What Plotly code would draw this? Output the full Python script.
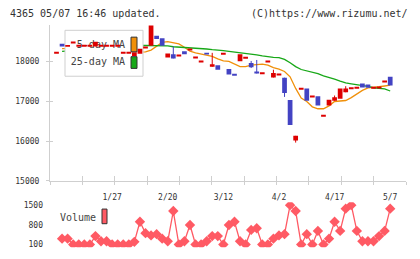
import plotly.graph_objects as go

W, H = 420, 259

# ---------------- data ----------------
date_labels = ["1/27", "2/20", "3/12", "4/2", "4/17", "5/7"]
label_index = [10, 20, 30, 40, 50, 60]

opens = [18220, 18450, 18370, 18480, 18400, 18400, 18400, 18380, 18400, 18400,
         18400, 18400, 18220, 18220, 18140, 18195, 18330, 18400, 18650, 18590,
         18105, 18185, 18150, 18260, 18290, 18100, 18000, 18215, 17870, 17910,
         18195, 17810, 17685, 18007, 18097, 17965, 17745, 17707, 18000, 17600,
         17673, 17595, 17030, 16010, 17317, 17325, 17122, 17130, 16634, 16895,
         17015, 17065, 17227, 17310, 17341, 17445, 17420, 17341, 17325, 17480,
         17615]
highs = [18220, 18450, 18420, 18480, 18400, 18400, 18400, 18500, 18400, 18400,
         18400, 18400, 18220, 18220, 18235, 18325, 18380, 18950, 18650, 18590,
         18200, 18380, 18150, 18260, 18320, 18100, 18000, 18215, 18220, 17910,
         18195, 17810, 17685, 18185, 18097, 18015, 18040, 17707, 18000, 17795,
         17673, 17595, 17030, 16130, 17317, 17325, 17122, 17130, 16634, 17040,
         17145, 17325, 17380, 17345, 17341, 17445, 17420, 17341, 17365, 17520,
         17615]
lows = [18220, 18380, 18370, 18480, 18400, 18400, 18400, 18380, 18400, 18400,
        18400, 18400, 18220, 18220, 18140, 18195, 18330, 18400, 18570, 18400,
        18105, 18080, 18150, 18185, 18290, 18100, 18000, 18185, 17870, 17795,
        18195, 17675, 17650, 18007, 18097, 17837, 17700, 17707, 18000, 17600,
        17673, 17110, 16405, 15960, 17317, 17015, 17122, 16895, 16634, 16895,
        17015, 17065, 17227, 17310, 17341, 17350, 17340, 17341, 17325, 17480,
        17400]
closes = [18220, 18380, 18420, 18480, 18400, 18400, 18400, 18500, 18400, 18400,
          18400, 18400, 18220, 18220, 18235, 18325, 18380, 18950, 18570, 18400,
          18200, 18080, 18150, 18185, 18320, 18100, 18000, 18185, 17935, 17795,
          18195, 17675, 17650, 18185, 18097, 17855, 17700, 17707, 18000, 17715,
          17673, 17210, 16405, 16130, 17317, 17015, 17122, 16895, 16634, 17040,
          17100, 17325, 17325, 17345, 17341, 17350, 17340, 17341, 17365, 17520,
          17400]

ma5 = [None, 18324, 18330, 18360, 18400, 18410, 18420, 18420, 18430, 18420,
       18400, 18350, 18300, 18260, 18240, 18244, 18244, 18288, 18385, 18483,
       18502, 18483, 18446, 18361, 18263, 18220, 18190, 18161, 18129, 18068,
       18015, 18007, 17946, 17873, 17873, 17910, 17922, 17934, 17910, 17849,
       17812, 17751, 17617, 17324, 17080, 16995, 16861, 16812, 16812, 16885,
       16995, 17000, 17020, 17093, 17190, 17276, 17337, 17361, 17366, 17385,
       17405]
ma25 = [None, 18259, 18270, 18280, 18290, 18300, 18310, 18320, 18330, 18340,
        18350, 18360, 18370, 18380, 18395, 18405, 18405, 18405, 18402, 18398,
        18393, 18373, 18366, 18361, 18349, 18341, 18324, 18317, 18300, 18293,
        18276, 18259, 18244, 18227, 18207, 18195, 18171, 18141, 18117, 18105,
        18098, 18056, 17971, 17873, 17800, 17771, 17727, 17698, 17641, 17605,
        17556, 17507, 17463, 17439, 17422, 17398, 17373, 17341, 17324, 17312,
        17259]

volume = [None, 310, 310, 100, 100, 100, 100, 400, 215, 215,
          100, 100, 100, 100, 195, 910, 505, 425, 470, 310,
          215, 1290, 100, 215, 795, 100, 100, 215, 400, 400,
          100, 795, 910, 215, 100, 620, 680, 100, 100, 310,
          425, 470, 1500, 1290, 100, 470, 100, 585, 100, 310,
          910, 585, 1375, 1500, 585, 215, 215, 215, 400, 585,
          1375]

price_ticks = [15000, 16000, 17000, 18000]
vol_ticks = [100, 800, 1500]

# ---------------- style ----------------
UP = "#dd0000"
DOWN = "#4343c3"
ORANGE = "#f0900a"
GREEN = "#18a818"
VOLC = "#ff5a64"
AXC = "#cfcfcf"
TXT = "#333333"
MONO = "DejaVu Sans Mono"

n = len(closes)
xs = list(range(n))
XR = [-1.17, 62.84]
YR = [15000, 18910]
VR = [0, 1600]
grid_ticks = [XR[0] + k * (XR[1] - XR[0]) / 11 for k in range(12)]


def px_x(p):
    return p / W


def px_y(p):
    return 1 - p / H


price_dom = [px_y(184), px_y(25)]
vol_dom = [px_y(252.2), px_y(206.1)]
x_dom = [px_x(50), px_x(406)]

fig = go.Figure()

# moving averages (base layer)
fig.add_trace(go.Scatter(x=xs, y=ma5, mode="lines", line=dict(color=ORANGE, width=1.3),
                         xaxis="x", yaxis="y", hoverinfo="skip"))
fig.add_trace(go.Scatter(x=xs, y=ma25, mode="lines", line=dict(color=GREEN, width=1.3),
                         xaxis="x", yaxis="y", hoverinfo="skip"))

# legend box layer (covers MA lines, under candles)
bx0, bx1 = (65 - 50) / 356, (143 - 50) / 356
by0, by1 = (184 - 77) / 159, (184 - 30) / 159
fig.add_trace(go.Scatter(x=[bx0, bx1, bx1, bx0, bx0], y=[by0, by0, by1, by1, by0],
                         mode="lines", fill="toself", fillcolor="white",
                         line=dict(color=AXC, width=1), xaxis="x2", yaxis="y2",
                         hoverinfo="skip"))
fig.add_trace(go.Scatter(x=[(125 - 50) / 356] * 2, y=[(184 - 46) / 159, (184 - 63) / 159],
                         mode="text", text=["5-day MA", "25-day MA"],
                         textposition="middle left",
                         textfont=dict(family=MONO, size=10, color="#444444"),
                         xaxis="x2", yaxis="y2", hoverinfo="skip"))

# candles (top layer)
MINB = 50
for col, sel in ((UP, lambda o, c: c >= o), (DOWN, lambda o, c: c < o)):
    bx, bbase, bh = [], [], []
    wx, wy = [], []
    for i in range(n):
        o, c = opens[i], closes[i]
        if not sel(o, c):
            continue
        lo, hi = min(o, c), max(o, c)
        if hi - lo < MINB:
            mid = (hi + lo) / 2
            lo, hi = mid - MINB / 2, mid + MINB / 2
        bx.append(i)
        bbase.append(lo)
        bh.append(hi - lo)
        if highs[i] > max(o, c) or lows[i] < min(o, c):
            wx += [i, i, None]
            wy += [lows[i], highs[i], None]
    fig.add_trace(go.Bar(x=bx, y=bh, base=bbase, width=0.85,
                         marker=dict(color=col, line=dict(width=0)),
                         xaxis="x3", yaxis="y3", hoverinfo="skip"))
    fig.add_trace(go.Scatter(x=wx, y=wy, mode="lines", line=dict(color=col, width=1),
                             xaxis="x3", yaxis="y3", hoverinfo="skip"))

# volume
fig.add_trace(go.Scatter(x=xs, y=volume, mode="lines+markers",
                         line=dict(color=VOLC, width=1.3),
                         marker=dict(symbol="diamond", size=8, color=VOLC),
                         xaxis="x4", yaxis="y4", hoverinfo="skip"))

common = dict(showgrid=False, zeroline=False, fixedrange=True)
fig.update_layout(
    width=W, height=H, autosize=False,
    margin=dict(l=0, r=0, t=0, b=0),
    paper_bgcolor="white", plot_bgcolor="rgba(0,0,0,0)",
    showlegend=False, barmode="overlay",
    xaxis=dict(domain=x_dom, range=XR, anchor="y", showline=True, linecolor=AXC, linewidth=1,
               tickmode="array", tickvals=grid_ticks, ticks="outside", ticklen=3,
               tickcolor=AXC, showticklabels=False, **common),
    yaxis=dict(domain=price_dom, range=YR, anchor="x", showline=True, linecolor=AXC, linewidth=1,
               tickmode="array", tickvals=price_ticks, ticktext=[str(v) for v in price_ticks],
               ticks="outside", ticklen=3, tickcolor=AXC, ticklabelstandoff=5,
               tickfont=dict(family=MONO, size=8, color=TXT), **common),
    xaxis2=dict(overlaying="x", range=[0, 1], visible=False, **common),
    yaxis2=dict(overlaying="y", range=[0, 1], visible=False, **common),
    xaxis3=dict(overlaying="x", range=XR, anchor="y3", showline=False,
                tickmode="array", tickvals=grid_ticks, ticks="inside", ticklen=5,
                tickcolor=AXC, showticklabels=False, **common),
    yaxis3=dict(overlaying="y", range=YR, anchor="x3", showline=False,
                tickmode="array", tickvals=price_ticks, ticks="inside", ticklen=3,
                tickcolor=AXC, showticklabels=False, **common),
    xaxis4=dict(domain=x_dom, range=XR, anchor="y4", side="top", showline=False,
                tickmode="array", tickvals=label_index, ticktext=date_labels, ticks="",
                tickfont=dict(family=MONO, size=8, color=TXT), **common),
    yaxis4=dict(domain=vol_dom, range=VR, anchor="x4", showline=False,
                tickmode="array", tickvals=vol_ticks, ticktext=[str(v) for v in vol_ticks],
                ticks="", ticklabelstandoff=6,
                tickfont=dict(family=MONO, size=8, color=TXT), **common),
)

# header texts
fig.add_annotation(x=px_x(8), y=px_y(12.5), xref="paper", yref="paper", xanchor="left",
                   yanchor="middle", showarrow=False, text="4365 05/07 16:46 updated.",
                   font=dict(family=MONO, size=10, color=TXT))
fig.add_annotation(x=px_x(410), y=px_y(12.5), xref="paper", yref="paper", xanchor="right",
                   yanchor="middle", showarrow=False, text="(C)https://www.rizumu.net/",
                   font=dict(family=MONO, size=10, color=TXT))

# legend swatches
fig.add_shape(type="rect", xref="paper", yref="paper", x0=px_x(131), x1=px_x(137),
              y0=px_y(52), y1=px_y(37), fillcolor=ORANGE, line=dict(color="#333333", width=1))
fig.add_shape(type="rect", xref="paper", yref="paper", x0=px_x(131), x1=px_x(137),
              y0=px_y(69), y1=px_y(57), fillcolor=GREEN, line=dict(color="#333333", width=1))

# volume legend
fig.add_annotation(x=px_x(58), y=px_y(222), xref="paper", yref="paper", xanchor="left",
                   yanchor="middle", showarrow=False, text="Volume",
                   font=dict(family=MONO, size=10, color="#444444"))
fig.add_shape(type="rect", xref="paper", yref="paper", x0=px_x(102), x1=px_x(107),
              y0=px_y(228), y1=px_y(213), fillcolor=VOLC, line=dict(color="#333333", width=1))

page_js = ("var s=document.createElement('style');"
           "s.innerHTML='html,body{margin:0;padding:0;overflow:hidden;height:259px;}';"
           "document.head.appendChild(s);")
fig.write_html("out.html",
               config={"displayModeBar": False, "displaylogo": False, "staticPlot": True},
               post_script=page_js)
